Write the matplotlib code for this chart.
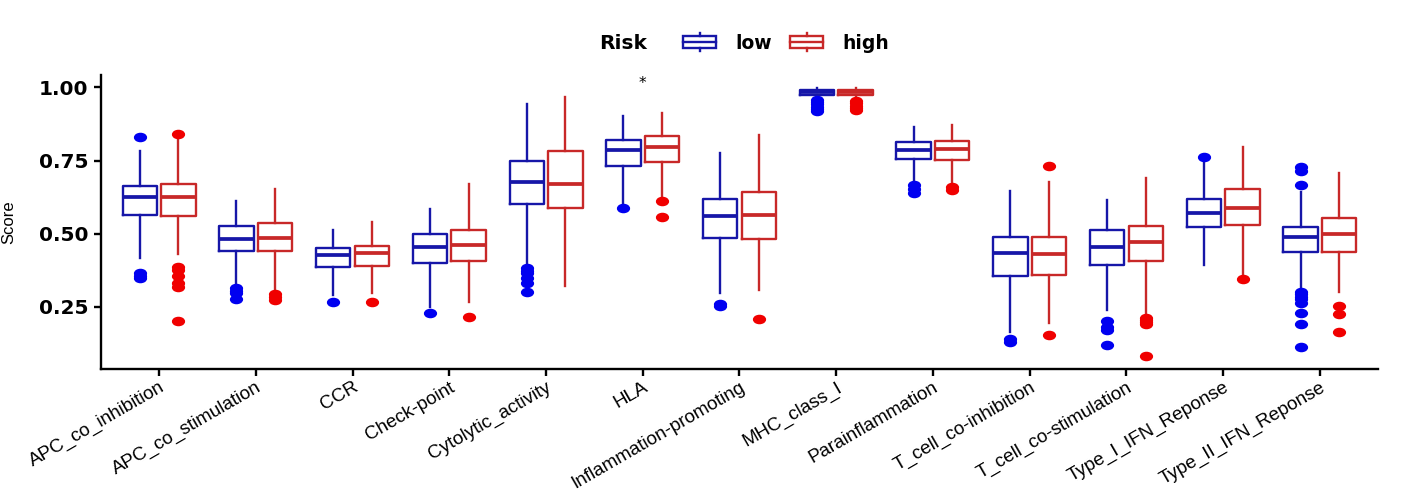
import matplotlib
matplotlib.use("Agg")
import matplotlib.pyplot as plt
from matplotlib.patches import Patch, Rectangle
from matplotlib.lines import Line2D
from matplotlib.legend_handler import HandlerBase
from matplotlib.path import Path
from matplotlib.transforms import Affine2D
import numpy as np

categories = ["APC_co_inhibition", "APC_co_stimulation", "CCR", "Check-point",
              "Cytolytic_activity", "HLA", "Inflammation-promoting", "MHC_class_I",
              "Parainflammation", "T_cell_co-inhibition", "T_cell_co-stimulation",
              "Type_I_IFN_Reponse", "Type_II_IFN_Reponse"]

# low risk group: whisker high, q3, median, q1, whisker low, outliers
low_whishi = [0.781, 0.612, 0.513, 0.586, 0.945, 0.901, 0.775, 0.998, 0.864, 0.646, 0.614, 0.752, 0.642]
low_q3     = [0.664, 0.525, 0.450, 0.499, 0.749, 0.821, 0.618, 0.990, 0.812, 0.488, 0.514, 0.619, 0.522]
low_med    = [0.625, 0.482, 0.426, 0.453, 0.676, 0.787, 0.560, 0.983, 0.787, 0.433, 0.456, 0.572, 0.490]
low_q1     = [0.563, 0.440, 0.385, 0.399, 0.603, 0.732, 0.485, 0.975, 0.755, 0.356, 0.393, 0.524, 0.438]
low_whislo = [0.416, 0.319, 0.290, 0.250, 0.401, 0.598, 0.296, 0.967, 0.673, 0.164, 0.239, 0.393, 0.319]
low_out = [
    [0.830, 0.364, 0.356, 0.348],
    [0.313, 0.305, 0.298, 0.276],
    [0.267],
    [0.229],
    [0.381, 0.372, 0.364, 0.347, 0.330, 0.301],
    [0.589],
    [0.260, 0.252],
    [0.958, 0.950, 0.942, 0.934, 0.926, 0.918],
    [0.665, 0.652, 0.638],
    [0.140, 0.128],
    [0.202, 0.180, 0.172, 0.118],
    [0.762],
    [0.728, 0.715, 0.667, 0.301, 0.292, 0.283, 0.275, 0.262, 0.227, 0.191, 0.113],
]

# high risk group
high_whishi = [0.835, 0.652, 0.539, 0.669, 0.966, 0.912, 0.836, 0.998, 0.871, 0.678, 0.692, 0.798, 0.707]
high_q3     = [0.670, 0.537, 0.458, 0.513, 0.784, 0.835, 0.643, 0.990, 0.817, 0.489, 0.527, 0.653, 0.553]
high_med    = [0.626, 0.486, 0.433, 0.460, 0.669, 0.795, 0.563, 0.983, 0.789, 0.429, 0.473, 0.589, 0.499]
high_q1     = [0.562, 0.440, 0.389, 0.405, 0.587, 0.746, 0.483, 0.974, 0.752, 0.360, 0.405, 0.530, 0.438]
high_whislo = [0.429, 0.310, 0.296, 0.267, 0.321, 0.621, 0.307, 0.967, 0.667, 0.193, 0.222, 0.353, 0.301]
high_out = [
    [0.840, 0.387, 0.375, 0.355, 0.330, 0.319, 0.201],
    [0.292, 0.283, 0.272],
    [0.267],
    [0.215],
    [],
    [0.610, 0.558],
    [0.209],
    [0.955, 0.946, 0.938, 0.930, 0.924],
    [0.660, 0.648],
    [0.730, 0.155],
    [0.212, 0.205, 0.198, 0.190, 0.082],
    [0.344],
    [0.252, 0.226, 0.164],
]

signif = ["", "", "", "", "", "*", "", "", "", "", "", "", ""]

BLUE_LINE, BLUE_PT = "#1616A8", "#0000F0"
RED_LINE, RED_PT = "#C82828", "#F00000"

# stretched circle for the outlier dots
ellipse = Path.unit_circle().transformed(Affine2D().scale(1.45, 1.0))


def make_stats(whishi, q3, med, q1, whislo, outs):
    return [dict(whishi=a, q3=b, med=c, q1=d, whislo=e, fliers=np.array(f))
            for a, b, c, d, e, f in zip(whishi, q3, med, q1, whislo, outs)]


def draw_group(ax, stats, pos, line_col, pt_col):
    ax.bxp(stats, positions=pos, widths=0.355, showcaps=False, patch_artist=False,
           boxprops=dict(color=line_col, lw=1.7),
           whiskerprops=dict(color=line_col, lw=1.7),
           medianprops=dict(color=line_col, lw=2.7, solid_capstyle="butt"),
           flierprops=dict(marker=ellipse, markersize=8.5, markerfacecolor=pt_col,
                           markeredgecolor=pt_col, linestyle="none"))


class BoxKey(HandlerBase):
    def create_artists(self, legend, orig_handle, xdescent, ydescent, width, height, fontsize, trans):
        c = orig_handle.get_edgecolor()
        x0, y0 = -xdescent, -ydescent
        bl, bh = y0 + height * 0.05, y0 + height * 0.95
        arts = [
            Rectangle((x0, bl), width, bh - bl, fill=False, edgecolor=c, lw=1.7, transform=trans),
            Line2D([x0, x0 + width], [y0 + height / 2] * 2, color=c, lw=1.7, transform=trans),
            Line2D([x0 + width / 2] * 2, [bh, y0 + height * 1.25], color=c, lw=1.7, transform=trans),
            Line2D([x0 + width / 2] * 2, [y0 - height * 0.25, bl], color=c, lw=1.7, transform=trans),
        ]
        return arts


fig = plt.figure(figsize=(14.13, 4.96), dpi=100)
ax = fig.add_axes([0.0715, 0.256, 0.9037, 0.593])

x = np.arange(1, len(categories) + 1)
draw_group(ax, make_stats(low_whishi, low_q3, low_med, low_q1, low_whislo, low_out),
           x - 0.2, BLUE_LINE, BLUE_PT)
draw_group(ax, make_stats(high_whishi, high_q3, high_med, high_q1, high_whislo, high_out),
           x + 0.2, RED_LINE, RED_PT)

for xi, s in zip(x, signif):
    if s:
        ax.text(xi, 1.012, s, ha="center", va="center", fontsize=11)

ax.set_xlim(0.4, len(categories) + 0.6)
ax.set_ylim(0.037, 1.043)
ax.set_xticks(x)
ax.set_xticklabels(categories, rotation=30, ha="right", rotation_mode="anchor",
                   fontsize=13.6, family="Liberation Sans")
ax.set_yticks([0.25, 0.5, 0.75, 1.0])
ax.set_yticklabels(["0.25", "0.50", "0.75", "1.00"], fontsize=14.5, fontweight="bold")
ax.set_ylabel("Score", fontsize=12, family="Liberation Sans")
ax.yaxis.set_label_coords(-0.066, 0.5)

for side in ["top", "right"]:
    ax.spines[side].set_visible(False)
for side in ["left", "bottom"]:
    ax.spines[side].set_linewidth(1.7)
ax.tick_params(axis="both", width=1.7, length=5, color="black")
ax.tick_params(axis="y", pad=4)
ax.tick_params(axis="x", pad=2)

handles = [Patch(edgecolor=BLUE_LINE, facecolor="none"), Patch(edgecolor=RED_LINE, facecolor="none")]
fig.text(0.424, 0.913, "Risk", fontsize=14.5, fontweight="bold", ha="left", va="center")
fig.legend(handles, ["low", "high"], handler_map={Patch: BoxKey()}, ncol=2,
           loc="center left", bbox_to_anchor=(0.477, 0.913), frameon=False,
           prop=dict(size=13.5, weight="bold"), handlelength=1.75, handleheight=0.65,
           handletextpad=1.0, columnspacing=1.0, borderpad=0.0)

fig.savefig("out.png", dpi=100)
